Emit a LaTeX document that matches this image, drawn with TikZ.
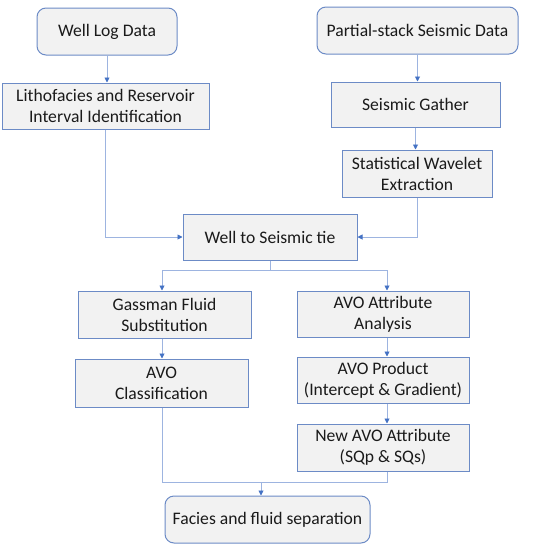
\documentclass[tikz,border=0pt]{standalone}
\usepackage{fontspec}
\setmainfont{Carlito}
\usetikzlibrary{arrows.meta}
\definecolor{boxfill}{HTML}{F2F2F2}
\definecolor{boxline}{HTML}{6C8BC6}
\definecolor{conn}{HTML}{9DB4E0}
\definecolor{tipc}{HTML}{4472C4}
\definecolor{txt}{HTML}{1A1A1A}
\tikzset{
  box/.style={draw=boxline, fill=boxfill, line width=1pt, align=center, text=txt,
    font=\fontsize{17.6}{21}\selectfont, inner sep=0pt},
  rbox/.style={box, rounded corners=9pt},
  conn/.style={draw=conn, line width=0.9pt},
  arr/.style={conn, -{Triangle[length=5pt,width=5pt,color=tipc]}}
}
\begin{document}
\begin{tikzpicture}[x=1pt,y=-1pt]
\useasboundingbox (0,0) rectangle (545,550);
\node[rbox, minimum width=140pt, minimum height=47pt] (well) at (107,31.5) {Well Log Data};
\node[rbox, minimum width=201pt, minimum height=47pt] (partial) at (417.5,30.5) {Partial-stack Seismic Data};
\node[box, minimum width=207pt, minimum height=46pt] (litho) at (105.5,106) {Lithofacies and Reservoir\\Interval Identification};
\node[box, minimum width=169pt, minimum height=45pt] (gather) at (415.5,104.5) {Seismic Gather};
\node[box, minimum width=150pt, minimum height=47pt] (stat) at (417,173.5) {Statistical Wavelet\\Extraction};
\node[box, minimum width=174pt, minimum height=46pt] (tie) at (270,237) {Well to Seismic tie};
\node[box, minimum width=173pt, minimum height=47pt] (gass) at (164.5,314.5) {Gassman Fluid\\Substitution};
\node[box, minimum width=172pt, minimum height=46pt] (avoa) at (383,314) {AVO Attribute\\Analysis};
\node[box, minimum width=173pt, minimum height=48pt] (avoc) at (161.5,383) {AVO\\Classification};
\node[box, minimum width=172pt, minimum height=46pt] (prod) at (383,380) {AVO Product\\(Intercept \& Gradient)};
\node[box, minimum width=172pt, minimum height=47pt] (newavo) at (383,447.5) {New AVO Attribute\\(SQp \& SQs)};
\node[rbox, minimum width=205pt, minimum height=47pt] (facies) at (267.5,519.5) {Facies and fluid separation};

\coordinate (split) at (270,270);
\coordinate (gl) at (162,270);
\coordinate (gr) at (387,270);
\coordinate (join) at (261,482);

\draw[arr] (well.south) -- (well.south |- litho.north);
\draw[arr] (partial.south) -- (partial.south |- gather.north);
\draw[arr] (gather.south) -- (gather.south |- stat.north);
\draw[arr] (litho.south) |- (tie.west);
\draw[arr] (stat.south) |- (tie.east);
\draw[conn] (tie.south) -- (split);
\draw[conn] (gl) -- (gr);
\draw[arr] (gl) -- (gl |- gass.north);
\draw[arr] (gr) -- (gr |- avoa.north);
\draw[arr] (gass.south -| gl) -- (gl |- avoc.north);
\draw[arr] (avoa.south -| gr) -- (gr |- prod.north);
\draw[arr] (prod.south -| gr) -- (gr |- newavo.north);
\draw[conn] (avoc.south -| gl) |- (join);
\draw[conn] (newavo.south -| gr) |- (join);
\draw[arr] (join) -- (join |- facies.north);
\end{tikzpicture}
\end{document}
